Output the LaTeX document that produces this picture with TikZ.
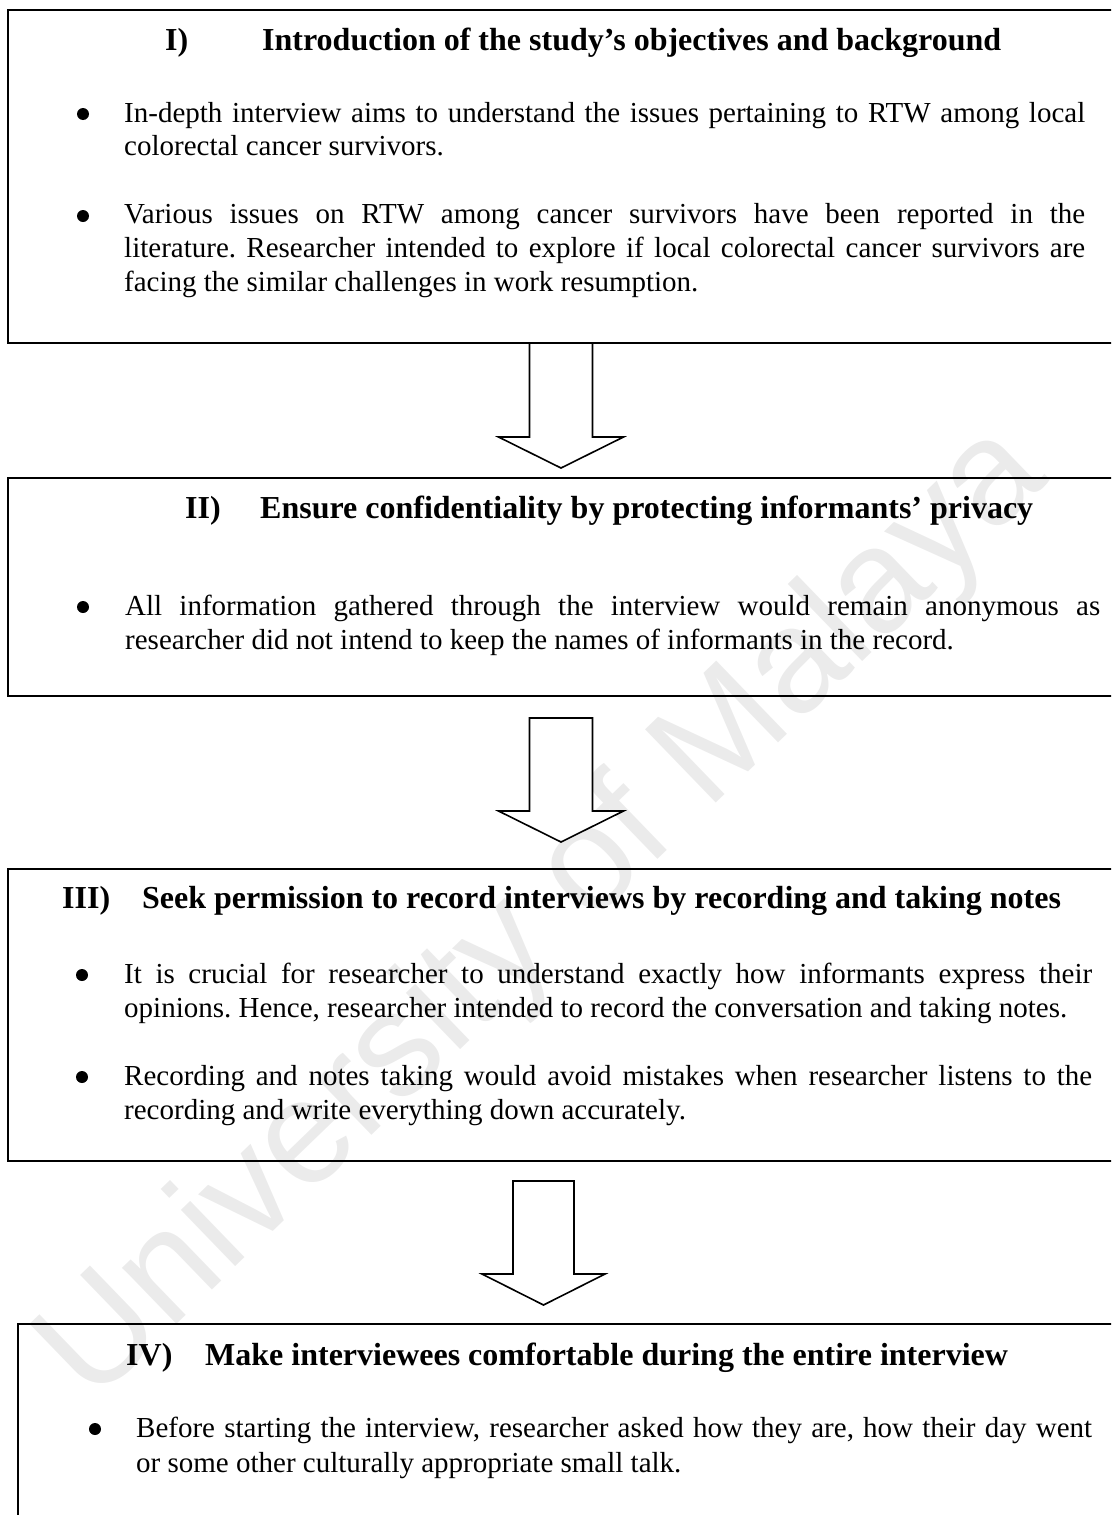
\documentclass[tikz,border=0pt]{standalone}
\usepackage{fontspec}
\setmainfont{Liberation Serif}
\newfontfamily\wmfont{Liberation Sans}
\frenchspacing
% a justified line of given width
\newcommand{\justline}[2]{\makebox[#1][s]{#2}}
\begin{document}
\begin{tikzpicture}[x=1pt,y=-1pt,
  panel/.style={draw=black, line width=2pt, anchor=north west, inner sep=0pt, outer sep=0pt},
  blockarrow/.style={draw=black, line width=1.6pt, fill=white, line join=miter},
  head/.style={font=\fontsize{32}{38}\selectfont\bfseries, anchor=base west, inner sep=0pt},
  body/.style={font=\fontsize{29}{34}\selectfont, anchor=base west, inner sep=0pt},
  dot/.style={circle, fill=black, inner sep=0pt, minimum size=12pt},
  watermark/.style={font=\wmfont\fontsize{148}{148}\selectfont, text=black!8, rotate=44},
  pics/blockdown/.style n args={3}{code={
    \draw[blockarrow] (-#1,0) -- (#1,0) -- (#1,#3-31) -- (#2,#3-31) -- (0,#3)
      -- (-#2,#3-31) -- (-#1,#3-31) -- cycle;}},
]
\clip (0,0) rectangle (1111,1515);

% background watermark
\node[watermark] (wm) at (545,915) {University of Malaya};

% the four stage panels
\node[panel, minimum width=1122pt, minimum height=333pt] (p1) at (8,10) {};
\node[panel, minimum width=1122pt, minimum height=218pt] (p2) at (8,478) {};
\node[panel, minimum width=1122pt, minimum height=292pt] (p3) at (8,869) {};
\node[panel, minimum width=1112pt, minimum height=220pt] (p4) at (18,1324) {};

% block arrows between the panels
\pic (a1) at (561,343) {blockdown={31.5}{62.5}{125}};
\pic (a2) at (561,718) {blockdown={31.5}{62.5}{124}};
\pic (a3) at (543.5,1181) {blockdown={30.5}{61.5}{124}};

% stage I
\node[head] (n1) at (165,50) {I)};
\node[head] (t1) at (262,50) {Introduction of the study’s objectives and background};
\node[dot] (d11) at (83,114) {};
\node[body] (l111) at (124,122) {\justline{961pt}{In-depth interview aims to understand the issues pertaining to RTW among local}};
\node[body] (l112) at (124,155) {colorectal cancer survivors.};
\node[dot] (d12) at (83,216) {};
\node[body] (l121) at (124,223) {\justline{961pt}{Various issues on RTW among cancer survivors have been reported in the}};
\node[body] (l122) at (124,257) {\justline{961pt}{literature. Researcher intended to explore if local colorectal cancer survivors are}};
\node[body] (l123) at (124,291) {facing the similar challenges in work resumption.};

% stage II
\node[head] (n2) at (185,518) {II)};
\node[head] (t2) at (260,518) {Ensure confidentiality by protecting informants’ privacy};
\node[dot] (d21) at (83,607) {};
\node[body] (l211) at (125,615) {\justline{975pt}{All information gathered through the interview would remain anonymous as}};
\node[body] (l212) at (125,649) {researcher did not intend to keep the names of informants in the record.};

% stage III
\node[head] (n3) at (62,908) {III)};
\node[head] (t3) at (142,908) {Seek permission to record interviews by recording and taking notes};
\node[dot] (d31) at (82,975) {};
\node[body] (l311) at (124,983) {\justline{968pt}{It is crucial for researcher to understand exactly how informants express their}};
\node[body] (l312) at (124,1017) {opinions. Hence, researcher intended to record the conversation and taking notes.};
\node[dot] (d32) at (82,1077) {};
\node[body] (l321) at (124,1085) {\justline{968pt}{Recording and notes taking would avoid mistakes when researcher listens to the}};
\node[body] (l322) at (124,1119) {recording and write everything down accurately.};

% stage IV
\node[head] (n4) at (126,1365) {IV)};
\node[head] (t4) at (205,1365) {Make interviewees comfortable during the entire interview};
\node[dot] (d41) at (95,1429) {};
\node[body] (l411) at (136,1437) {\justline{956pt}{Before starting the interview, researcher asked how they are, how their day went}};
\node[body] (l412) at (136,1472) {or some other culturally appropriate small talk.};
\end{tikzpicture}
\end{document}
